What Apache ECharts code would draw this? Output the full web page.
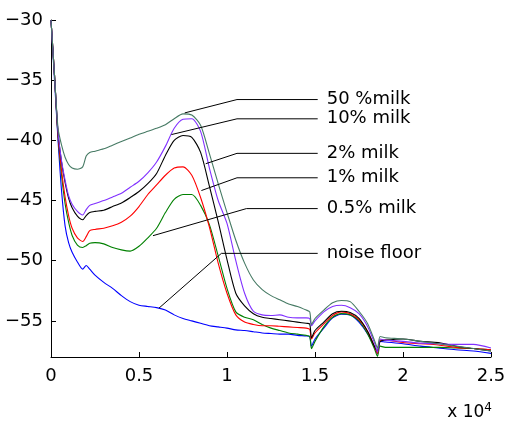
<!DOCTYPE html>
<html><head><meta charset="utf-8">
<script src="https://cdn.jsdelivr.net/npm/echarts@6/dist/echarts.min.js"></script>
<style>html,body{margin:0;padding:0;background:#fff}#c{width:510px;height:425px}</style>
</head><body><div id="c"></div>
<script>
// Frequency (Hz) shared by all curves
var freq = [0,200,400,600,800,1000,1200,1500,1800,2000,2200,2500,3000,3500,4000,4500,5000,5500,6000,6500,7000,7500,8000,8500,9000,9500,10000,10500,11000,11500,12000,12500,13000,13500,14000,14500,14700,14800,15000,15500,16000,16500,17000,17500,18000,18400,18550,18700,19000,20000,21000,22000,23000,24000,25000];

var milk50 = [-30,-34.6,-39.0,-40.4,-41.4,-42.0,-42.3,-42.4,-42.2,-41.3,-41.0,-40.9,-40.7,-40.4,-40.1,-39.8,-39.5,-39.25,-39.0,-38.7,-38.2,-37.8,-37.9,-38.75,-41.1,-43.6,-46.0,-48.3,-50.2,-51.6,-52.4,-52.9,-53.25,-53.6,-53.8,-54.1,-54.25,-55.3,-54.8,-54.1,-53.5,-53.3,-53.4,-54.2,-55.25,-56.7,-57.25,-56.3,-56.4,-56.5,-56.7,-56.9,-57.1,-57.3,-57.5];
var milk10 = [-30,-34.6,-39.3,-41.7,-43.3,-44.6,-45.3,-45.9,-46.2,-45.75,-45.4,-45.25,-45.0,-44.7,-44.4,-43.9,-43.4,-42.7,-41.8,-40.5,-39.0,-38.25,-38.2,-39.25,-42.3,-45.0,-46.9,-50.0,-52.7,-54.2,-54.5,-54.55,-54.5,-54.7,-54.75,-54.75,-54.8,-55.4,-55.0,-54.25,-53.8,-53.7,-53.9,-54.4,-55.5,-56.9,-57.6,-56.5,-56.6,-56.7,-56.85,-56.9,-56.95,-56.95,-57.25];
var milk2 = [-30,-34.6,-39.4,-41.8,-43.5,-44.8,-45.6,-46.3,-46.6,-46.25,-46.0,-45.9,-45.8,-45.5,-45.2,-44.75,-44.25,-43.6,-42.75,-41.25,-40.0,-39.6,-39.75,-41.0,-43.8,-46.75,-49.9,-52.7,-53.75,-54.4,-54.7,-54.8,-54.9,-55.0,-55.1,-55.2,-55.25,-56.4,-55.8,-55.1,-54.4,-54.2,-54.3,-54.8,-55.9,-57.2,-57.5,-56.7,-56.6,-56.5,-56.7,-56.8,-57.1,-57.3,-57.5];
var milk1 = [-30,-34.6,-39.6,-42.5,-44.7,-46.25,-47.3,-48.1,-48.4,-48.0,-47.5,-47.4,-47.3,-47.1,-46.8,-46.3,-45.5,-44.5,-43.7,-42.9,-42.3,-42.2,-42.9,-44.75,-47.2,-50.2,-52.7,-54.5,-55.1,-55.3,-55.4,-55.4,-55.45,-55.5,-55.55,-55.6,-55.7,-56.5,-56.0,-55.25,-54.55,-54.25,-54.4,-54.9,-55.9,-57.2,-57.7,-56.6,-56.6,-56.8,-56.9,-57.0,-57.2,-57.3,-57.4];
var milk05 = [-30,-34.6,-39.7,-42.9,-45.25,-46.8,-47.9,-48.7,-48.9,-48.75,-48.55,-48.5,-48.6,-48.9,-49.1,-49.2,-48.8,-48.1,-47.3,-46.0,-44.9,-44.5,-44.5,-45.4,-47.0,-49.6,-52.3,-54.25,-54.7,-54.9,-55.3,-55.6,-55.8,-56.0,-56.1,-56.2,-56.3,-57.3,-56.7,-55.5,-54.7,-54.4,-54.5,-55.0,-56.1,-57.4,-57.95,-57.1,-57.2,-57.2,-57.2,-57.2,-57.25,-57.3,-57.4];
var noiseFloor = [-30,-35.0,-40.0,-44.2,-47.1,-48.5,-49.3,-50.1,-50.7,-50.4,-50.7,-51.2,-51.8,-52.3,-52.9,-53.4,-53.7,-53.8,-53.9,-54.1,-54.5,-54.8,-55.0,-55.2,-55.4,-55.5,-55.6,-55.75,-55.8,-55.9,-56.0,-56.05,-56.1,-56.1,-56.2,-56.25,-56.3,-57.1,-56.5,-55.6,-54.75,-54.45,-54.5,-55.1,-56.1,-57.2,-57.75,-56.7,-56.75,-56.9,-57.1,-57.25,-57.4,-57.5,-57.7];

var seriesNames = ['50 %milk','10% milk','2% milk','1% milk','0.5% milk','noise floor'];
var seriesValues = [milk50, milk10, milk2, milk1, milk05, noiseFloor];
var seriesColors = ['#467a64','#8030ff','#000000','#ff0000','#008000','#0000ff'];

// leader lines (data coordinates): anchor on curve, elbow, end
var leaderAnchor = [[7597,-37.72],[6841,-39.52],[8790,-41.94],[8545,-44.17],[5795,-47.92],[6136,-53.94]];
var leaderElbow  = [[10568,-36.61],[10568,-38.21],[10568,-41.08],[10568,-43.11],[11102,-45.67],[9682,-49.39]];
var leaderEndX = 15153;

var yTicks = [-55,-50,-45,-40,-35,-30];

var series = [];
for (var k = seriesValues.length - 1; k >= 0; k--) {
  (function(k){
    series.push({
      type:'line', name:seriesNames[k], showSymbol:false, symbol:'none', smooth:0.25,
      lineStyle:{width:1.1,color:seriesColors[k]}, itemStyle:{color:seriesColors[k]},
      data: freq.map(function(f,i){return [f, seriesValues[k][i]];}),
      z:2, silent:true
    });
  })(k);
}
for (var j = 0; j < seriesNames.length; j++) {
  (function(j){
    series.push({
      type:'line', symbol:'none', showSymbol:false, silent:true, z:5,
      lineStyle:{width:1,color:'#000'},
      endLabel:{show:true, distance:9, formatter:function(){return seriesNames[j];},
        fontFamily:'DejaVu Sans', fontSize:18, color:'#000'},
      data:[leaderAnchor[j], leaderElbow[j], [leaderEndX, leaderElbow[j][1]]]
    });
  })(j);
}

var chart = echarts.init(document.getElementById('c'), null, {renderer:'canvas'});
chart.setOption({
  animation:false,
  backgroundColor:'#fff',
  grid:{left:51, right:19, top:20, bottom:68, containLabel:false},
  xAxis:{type:'value', min:0, max:25000, interval:5000,
    axisLine:{show:true, lineStyle:{color:'#000', width:1}},
    axisTick:{show:true, inside:true, length:5, lineStyle:{color:'#000'}},
    splitLine:{show:false},
    axisLabel:{margin:10, color:'#000', fontFamily:'DejaVu Sans', fontSize:18,
      formatter:function(v){return String(v/10000);}}
  },
  yAxis:{type:'value', min:-58, max:-30,
    axisLine:{show:true, lineStyle:{color:'#000', width:1}},
    axisTick:{show:true, inside:true, length:5, lineStyle:{color:'#000'}, customValues:yTicks},
    splitLine:{show:false},
    axisLabel:{margin:8, color:'#000', fontFamily:'DejaVu Sans', fontSize:18, customValues:yTicks,
      formatter:function(v){return String(v).replace('-', '\u2212');}}
  },
  graphic:[{type:'text', right:18, top:402, style:{
    text:'x 10{s|4}', rich:{s:{fontSize:12, verticalAlign:'top', padding:[0,0,10,0], fontFamily:'DejaVu Sans', fill:'#000'}},
    fontFamily:'DejaVu Sans', fontSize:17, fill:'#000'}}],
  series:series
});
</script></body></html>
